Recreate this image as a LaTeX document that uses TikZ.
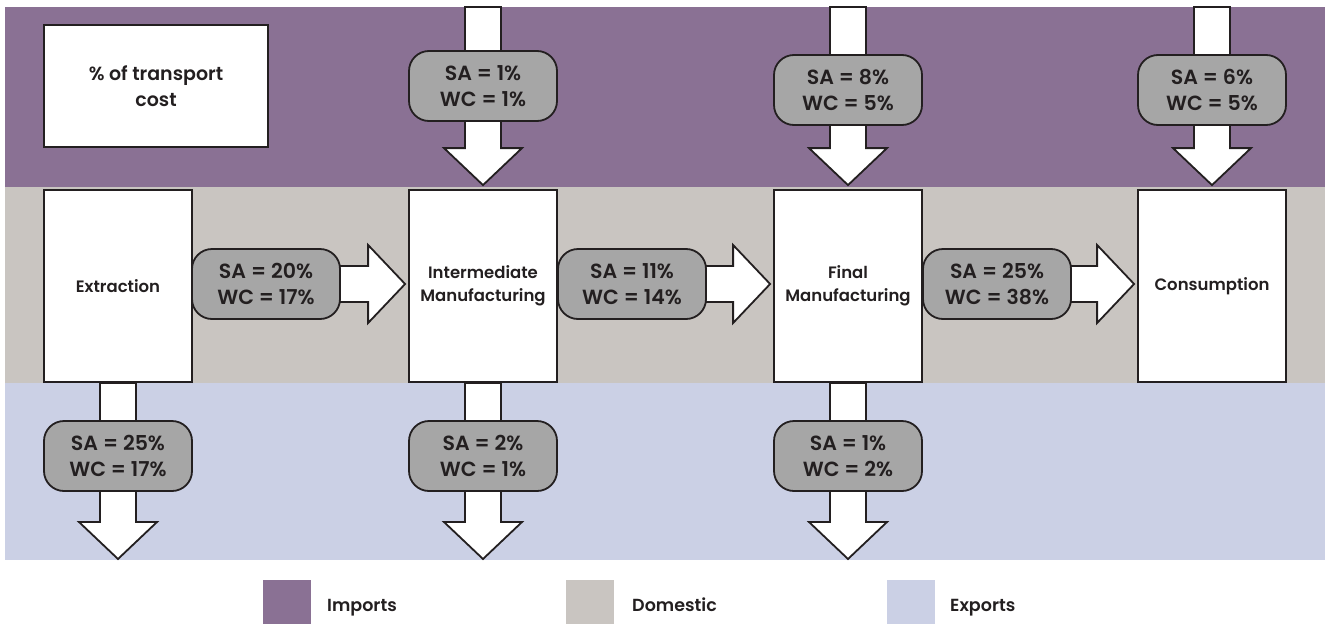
\documentclass[tikz,border=0pt]{standalone}
\usepackage{fontspec}
\setmainfont{Poppins}[BoldFont={Poppins SemiBold}]
\usetikzlibrary{calc}
\definecolor{impc}{HTML}{8A7194}
\definecolor{domc}{HTML}{C9C5C1}
\definecolor{expc}{HTML}{CBD0E5}
\definecolor{pillc}{HTML}{A6A6A6}
\definecolor{inkc}{HTML}{231F20}
\tikzset{
  arrowbody/.style={draw=inkc, line width=1.8pt, fill=white, line join=miter},
  stagebox/.style={draw=inkc, line width=1.8pt, fill=white, minimum width=148, minimum height=192, align=center, text=inkc, font=\bfseries\fontsize{16.5}{23.5}\selectfont, inner sep=0pt},
  pill/.style={draw=inkc, line width=1.8pt, fill=pillc, rounded corners=20pt, minimum width=148, minimum height=70, align=center, text=inkc, font=\bfseries\fontsize{20.5}{26.5}\selectfont, inner sep=0pt},
  legtext/.style={anchor=base west, text=inkc, font=\bfseries\fontsize{17.5}{20}\selectfont, inner sep=0pt},
}
\newcommand{\vArrowShape}[2]{%
  \draw[arrowbody] let \p1=(#1), \p2=(#2) in
    (\x2-18pt,\y1) -- (\x2+18pt,\y1) -- (\x2+18pt,\y2+37pt) -- (\x2+39pt,\y2+37pt) -- (\x2,\y2)
    -- (\x2-39pt,\y2+37pt) -- (\x2-18pt,\y2+37pt) -- cycle;}
\newcommand{\hArrowShape}[2]{%
  \draw[arrowbody] let \p1=(#1), \p2=(#2) in
    (\x1,\y2+18pt) -- (\x2-37pt,\y2+18pt) -- (\x2-37pt,\y2+39pt) -- (\x2,\y2)
    -- (\x2-37pt,\y2-39pt) -- (\x2-37pt,\y2-18pt) -- (\x1,\y2-18pt) -- cycle;}
\begin{document}
\begin{tikzpicture}[x=1pt, y=-1pt]
\useasboundingbox (0,0) rectangle (1325,624);
\fill[white] (0,0) rectangle (1325,624);
% bands
\fill[impc] (5,7) rectangle (1325,187);
\fill[domc] (5,187) rectangle (1325,383);
\fill[expc] (5,383) rectangle (1325,560);
% legend box
\node[stagebox, minimum width=224, minimum height=122, font=\bfseries\fontsize{19}{26}\selectfont] (key) at (156,86) {\% of transport\\cost};
% stage boxes
\node[stagebox] (ex) at (118,286) {Extraction};
\node[stagebox] (im) at (483,286) {Intermediate\\Manufacturing};
\node[stagebox] (fm) at (848,286) {Final\\Manufacturing};
\node[stagebox] (co) at (1212,286) {Consumption};
% helper coordinates
\coordinate (imtop) at (483,7);
\coordinate (fmtop) at (848,7);
\coordinate (cotop) at (1212,7);
\coordinate (imtip) at ($(im.north)+(0,-4)$);
\coordinate (fmtip) at ($(fm.north)+(0,-4)$);
\coordinate (cotip) at ($(co.north)+(0,-4)$);
\coordinate (exbot) at (118,559);
\coordinate (imbot) at (483,559);
\coordinate (fmbot) at (848,559);
\coordinate (imin) at ($(im.west)+(-3,-2)$);
\coordinate (fmin) at ($(fm.west)+(-3,-2)$);
\coordinate (coin) at ($(co.west)+(-3,-2)$);
% imports arrows
\vArrowShape{imtop}{imtip}
\vArrowShape{fmtop}{fmtip}
\vArrowShape{cotop}{cotip}
% exports arrows
\vArrowShape{ex.south}{exbot}
\vArrowShape{im.south}{imbot}
\vArrowShape{fm.south}{fmbot}
% domestic arrows
\hArrowShape{ex.east}{imin}
\hArrowShape{im.east}{fmin}
\hArrowShape{fm.east}{coin}
% pills
\node[pill] (p1) at (483,86) {SA = 1\%\\WC = 1\%};
\node[pill] (p2) at (848,90) {SA = 8\%\\WC = 5\%};
\node[pill] (p3) at (1212,90) {SA = 6\%\\WC = 5\%};
\node[pill] (p4) at (266,284) {SA = 20\%\\WC = 17\%};
\node[pill] (p5) at (632,284) {SA = 11\%\\WC = 14\%};
\node[pill] (p6) at (997,284) {SA = 25\%\\WC = 38\%};
\node[pill] (p7) at (118,456) {SA = 25\%\\WC = 17\%};
\node[pill] (p8) at (483,456) {SA = 2\%\\WC = 1\%};
\node[pill] (p9) at (848,456) {SA = 1\%\\WC = 2\%};
% legend
\fill[impc] (263,580) rectangle (311,624);
\fill[domc] (566,580) rectangle (614,624);
\fill[expc] (887,580) rectangle (935,624);
\node[legtext] (l1) at (327,611) {Imports};
\node[legtext] (l2) at (632,611) {Domestic};
\node[legtext] (l3) at (950,611) {Exports};
\end{tikzpicture}
\end{document}
